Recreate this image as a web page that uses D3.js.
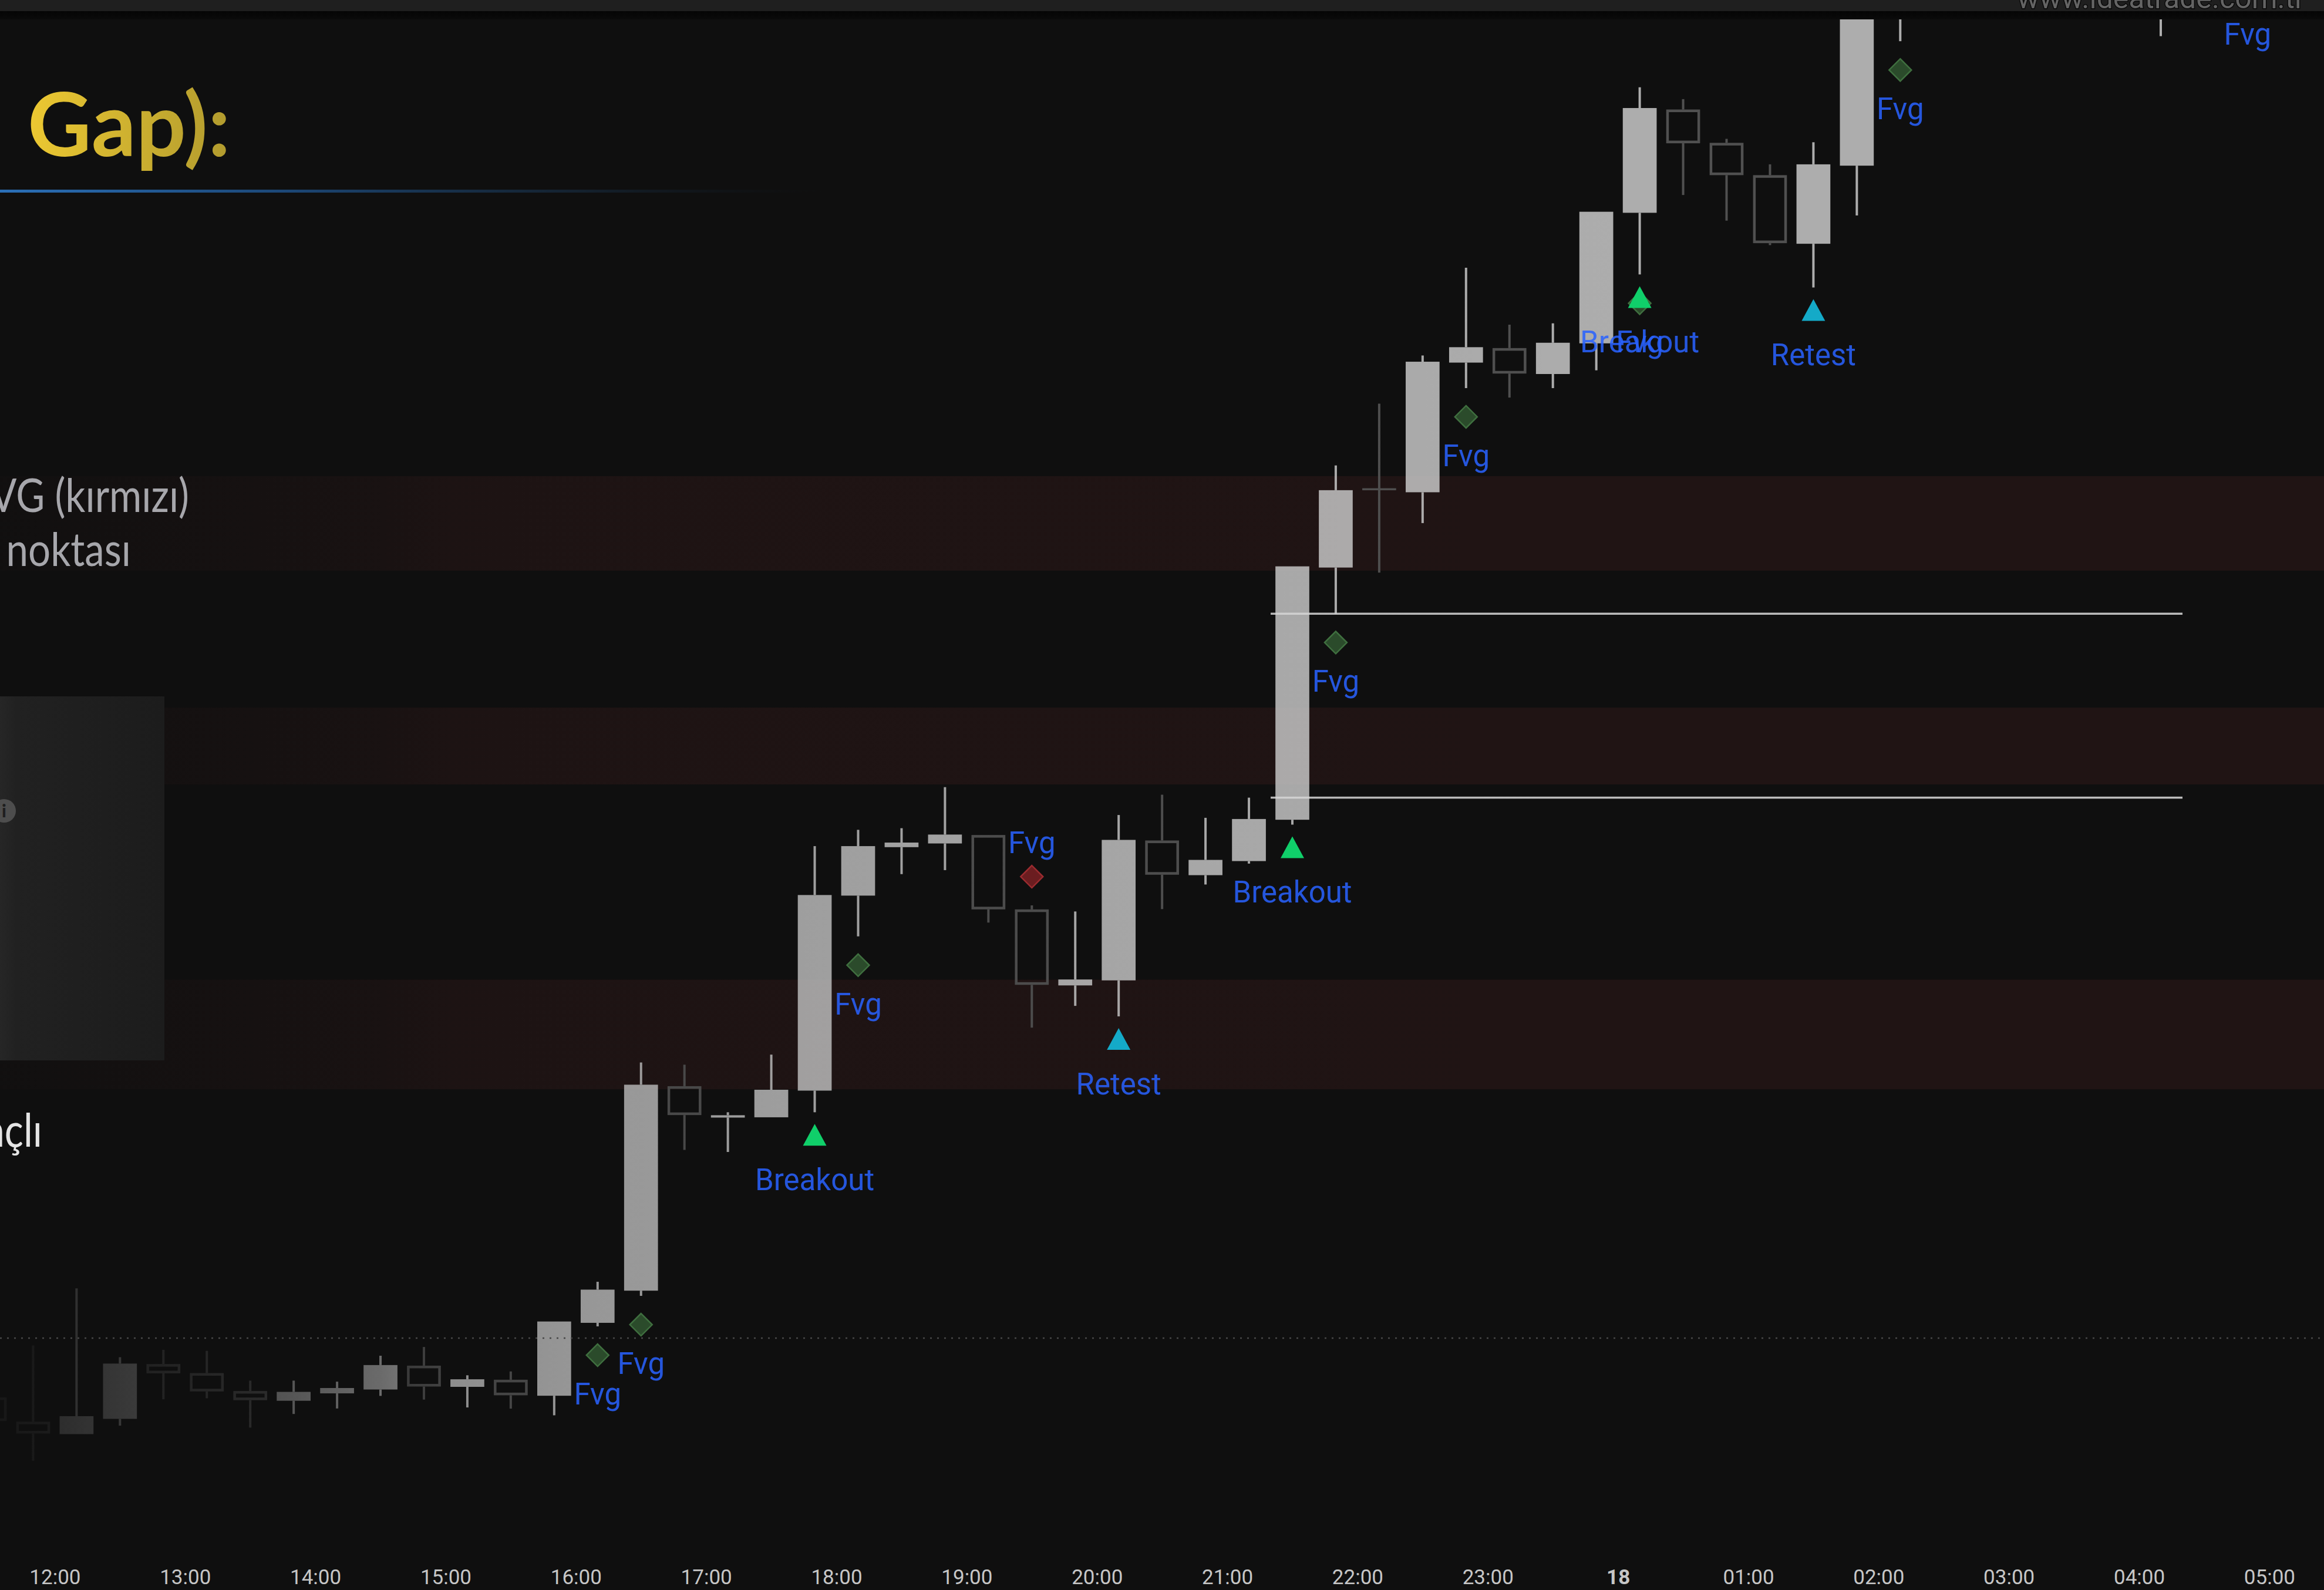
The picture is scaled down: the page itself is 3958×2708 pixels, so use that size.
<!DOCTYPE html>
<html>
<head>
<meta charset="utf-8">
<script src="https://cdn.jsdelivr.net/npm/d3@7"></script>
<style>
  html, body { margin: 0; padding: 0; background: #0f0f0f; overflow: hidden; }
  svg { display: block; }
</style>
</head>
<body>
<div id="chart"></div>
<script>
// 20 minute bars, 17th -> 18th (price in chart units)
var barTimes = ["17 11:30", "17 11:50", "17 12:10", "17 12:30", "17 12:50", "17 13:10", "17 13:30", "17 13:50",
    "17 14:10", "17 14:30", "17 14:50", "17 15:10", "17 15:30", "17 15:50", "17 16:10", "17 16:30",
    "17 16:50", "17 17:10", "17 17:30", "17 17:50", "17 18:10", "17 18:30", "17 18:50", "17 19:10",
    "17 19:30", "17 19:50", "17 20:10", "17 20:30", "17 20:50", "17 21:10", "17 21:30", "17 21:50",
    "17 22:10", "17 22:30", "17 22:50", "17 23:10", "17 23:30", "17 23:50", "18 00:10", "18 00:30",
    "18 00:50", "18 01:10", "18 01:30", "18 01:50", "18 02:10", "18 04:10", "18 04:50"];
var opens = [130, 113.6, 105.2, 115.5, 152.5, 146.4, 134.3, 127.7, 132.7, 135.3, 151.4, 137.1, 141.9, 131.1, 180.3, 202,
    340, 318.8, 319, 337, 468.6, 501.3, 503.8, 509.5, 459.3, 408, 411.4, 505.8, 482.4, 491.9, 519.8, 690,
    743, 740.8, 828.3, 838.1, 820.6, 841.3, 929.4, 999.1, 976.6, 954.8, 908.5, 961.2, 1085, 1080, 1110];
var highs = [130, 165, 203.6, 157.1, 162.1, 161.4, 141.3, 141.3, 140.6, 158.1, 164, 144.9, 147.5, 181.2, 208, 356,
    354.5, 322.4, 361.3, 502, 513, 514.1, 541.8, 509.5, 462, 457.9, 523, 536.7, 521.1, 534.7, 690.8, 758.9,
    800.6, 833.1, 892.3, 853.9, 854.8, 930.1, 1014.1, 1006.1, 979.3, 962.1, 977, 1092, 1130, 1100, 1125];
var lows = [114, 87.2, 105.2, 110.9, 128.7, 129.4, 109.6, 118.8, 122.5, 131, 128.5, 123.2, 122.4, 117.9, 177.9, 198.5,
    297, 295.6, 319, 322.4, 441.1, 483.1, 485.8, 450.4, 379.5, 394.2, 387.1, 459.5, 476.1, 490.2, 516.5, 658.8,
    686.6, 720, 811.1, 804.7, 811.1, 823.1, 887.8, 941.4, 924.1, 907.6, 879, 927.6, 1045.2, 1048.6, 1095.7];
var closes = [114, 105.6, 117.3, 152.8, 146.2, 134, 128.1, 133.7, 136.3, 151.8, 137.3, 142.2, 131.4, 181.2, 202.7, 341,
    320.5, 320.4, 337.6, 469, 502, 504.4, 509.8, 459.3, 408.4, 412, 506.2, 482.7, 492.7, 520.3, 690.8, 742.2,
    742.6, 828.9, 838.7, 820.9, 841.7, 930.1, 1000.1, 976.3, 954.8, 908.9, 962.1, 1085, 1120, 1090, 1120];

// indicator signals (index into the bar arrays)
var signalBar = [14, 15, 19, 20, 24, 26, 30, 31, 34, 38, 38, 42, 44, 46];
var signalType = ["fvg", "fvg", "breakout", "fvg", "fvgBear", "retest", "breakout", "fvg", "fvg", "fvg",
    "breakout", "retest", "fvg", "fvg"];
var signalText = ["Fvg", "Fvg", "Breakout", "Fvg", "Fvg", "Retest", "Breakout", "Fvg", "Fvg", "Fvg",
    "Breakout", "Retest", "Fvg", "Fvg"];

// FVG zones and levels
var zoneTop = [751.7, 595.5, 411.9];
var zoneBottom = [687.9, 543.6, 337.9];
var levelValues = [658.8, 534.7];
var levelStart = "17 21:20", levelEnd = "18 04:20";
var priceLine = 170;

var tickLabels = ["12:00", "13:00", "14:00", "15:00", "16:00", "17:00", "18:00", "19:00", "20:00", "21:00",
    "22:00", "23:00", "18", "01:00", "02:00", "03:00", "04:00", "05:00"];

var W = 3958, H = 2708;
var plotTop = 33, plotBottom = 2625;
var bg = "#0f0f0f";

var parseTime = d3.timeParse("%d %H:%M");

var svg = d3.select("#chart")
    .append("svg")
    .attr("width", W)
    .attr("height", H);

var x = d3.scaleTime()
    .domain([parseTime("17 12:00"), parseTime("18 05:00")])
    .range([93.4, 3864.9]);

var y = d3.scaleLinear()
    .domain([0, 1073])
    .range([H, 0]);

var bars = barTimes.map(function (t, i) {
    return { date: parseTime(t), open: opens[i], high: highs[i], low: lows[i], close: closes[i] };
});
var barStep = x(parseTime("17 12:20")) - x(parseTime("17 12:00"));
var barW = barStep * 0.78;

var defs = svg.append("defs");
defs.append("clipPath").attr("id", "plotClip")
    .append("rect").attr("x", 0).attr("y", plotTop).attr("width", W).attr("height", plotBottom - plotTop);

function gradient(id, x1, x2, stops, vertical) {
    var g = defs.append("linearGradient").attr("id", id).attr("gradientUnits", "userSpaceOnUse");
    if (vertical) g.attr("x1", 0).attr("x2", 0).attr("y1", x1).attr("y2", x2);
    else g.attr("x1", x1).attr("x2", x2).attr("y1", 0).attr("y2", 0);
    stops.forEach(function (s) {
        g.append("stop").attr("offset", s[0]).attr("stop-color", s[1]).attr("stop-opacity", s[2] == null ? 1 : s[2]);
    });
}
gradient("fade", 0, 2800, [[0, bg, 0.87], [0.071, bg, 0.75], [0.179, bg, 0.55], [0.232, bg, 0.42],
    [0.275, bg, 0.2], [0.357, bg, 0.14], [0.5, bg, 0.09], [0.714, bg, 0.04], [1, bg, 0]]);
gradient("gold", 49, 400, [[0, "#ecc832"], [0.5, "#cdb030"], [1, "#b09a2e"]]);
gradient("blueFade", 0, 1400, [[0, "#2b70b8"], [0.35, "#1f5590", 0.8], [0.7, "#1a3550", 0.5], [1, "#101820", 0]]);
gradient("boxGrad", 0, 280, [[0, "#262626"], [0.1, "#212121"], [1, "#1c1c1c"]]);
gradient("headShadow", 19, 46, [[0, "#050505"], [1, bg]], true);

svg.append("rect").attr("width", W).attr("height", H).attr("fill", bg);

var plot = svg.append("g").attr("clip-path", "url(#plotClip)");

// FVG zones
plot.selectAll(".zone")
    .data(zoneTop)
    .enter()
    .append("rect")
    .attr("class", "zone")
    .attr("x", 0)
    .attr("width", W)
    .attr("y", function (d) { return y(d); })
    .attr("height", function (d, i) { return y(zoneBottom[i]) - y(d); })
    .attr("fill", "#201414");

// candles
var bullColor = "#c4c4c4", bearColor = "#505050";
var candle = plot.selectAll(".candle")
    .data(bars)
    .enter()
    .append("g")
    .attr("class", "candle");

candle.each(function (d) {
    var g = d3.select(this);
    var cx = x(d.date);
    var up = d.close >= d.open;
    var top = y(Math.max(d.open, d.close)), bot = y(Math.min(d.open, d.close));
    var col = up ? bullColor : bearColor;
    g.append("line")
        .attr("x1", cx).attr("x2", cx)
        .attr("y1", y(d.high)).attr("y2", top)
        .attr("stroke", col).attr("stroke-width", 4).attr("stroke-opacity", up ? 0.88 : 1);
    g.append("line")
        .attr("x1", cx).attr("x2", cx)
        .attr("y1", bot).attr("y2", y(d.low))
        .attr("stroke", col).attr("stroke-width", 4).attr("stroke-opacity", up ? 0.88 : 1);
    if (up) {
        g.append("rect")
            .attr("x", cx - barW / 2).attr("width", barW)
            .attr("y", top).attr("height", Math.max(bot - top, 3))
            .attr("fill", bullColor).attr("fill-opacity", 0.88);
    } else if (bot - top < 6) {
        // doji
        g.append("line")
            .attr("x1", cx - barW / 2).attr("x2", cx + barW / 2)
            .attr("y1", (top + bot) / 2).attr("y2", (top + bot) / 2)
            .attr("stroke", bearColor).attr("stroke-width", 3.5);
    } else {
        g.append("rect")
            .attr("x", cx - barW / 2 + 2.25).attr("width", barW - 4.5)
            .attr("y", top + 2.25).attr("height", bot - top - 4.5)
            .attr("fill", "none").attr("stroke", bearColor).attr("stroke-width", 4.5);
    }
});

// FVG boundary levels
plot.selectAll(".level")
    .data(levelValues)
    .enter()
    .append("line")
    .attr("class", "level")
    .attr("x1", x(parseTime(levelStart)))
    .attr("x2", x(parseTime(levelEnd)))
    .attr("y1", function (d) { return y(d); })
    .attr("y2", function (d) { return y(d); })
    .attr("stroke", "#dcdcdc")
    .attr("stroke-opacity", 0.85)
    .attr("stroke-width", 3.5);

// left fade of the chart
plot.append("rect")
    .attr("x", 0).attr("y", plotTop)
    .attr("width", W).attr("height", plotBottom - plotTop)
    .attr("fill", "url(#fade)");

plot.append("line")
    .attr("x1", 0).attr("x2", W)
    .attr("y1", y(priceLine)).attr("y2", y(priceLine))
    .attr("stroke", "#474747")
    .attr("stroke-width", 2.5)
    .attr("stroke-dasharray", "3,9");

// signal shapes
var shapeFill = { fvg: "#2b4b2b", fvgBear: "#6b1d20", breakout: "#10cf6a", retest: "#14aac8" };
var shapeStroke = { fvg: "#3f6f3f", fvgBear: "#9b2b2f", breakout: "none", retest: "none" };

signalBar.forEach(function (b, i) {
    var d = bars[b], t = signalType[i];
    var cx = x(d.date), p;
    if (t == "breakout" || t == "retest") {
        var y0 = y(d.low) + 20;
        p = "M" + cx + "," + y0 + "L" + (cx - 20) + "," + (y0 + 37) + "L" + (cx + 20) + "," + (y0 + 37) + "Z";
    } else {
        var cy = t == "fvgBear" ? y(d.high) - 49 : y(d.low) + 49;
        p = "M" + cx + "," + (cy - 19) + "L" + (cx + 19) + "," + cy + "L" + cx + "," + (cy + 19) + "L" + (cx - 19) + "," + cy + "Z";
    }
    plot.append("path")
        .attr("d", p)
        .attr("fill", shapeFill[t])
        .attr("stroke", shapeStroke[t])
        .attr("stroke-width", 2.5);
});

signalBar.forEach(function (b, i) {
    var d = bars[b], t = signalType[i];
    plot.append("text")
        .attr("x", x(d.date))
        .attr("y", t == "fvgBear" ? y(d.high) - 107 : y(d.low) + 115)
        .attr("dy", "0.35em")
        .attr("text-anchor", "middle")
        .attr("fill", "#2962ff")
        .attr("fill-opacity", 0.86)
        .style("font-family", "Roboto, sans-serif")
        .style("font-size", "51px")
        .text(signalText[i]);
});

// header strip
svg.append("rect").attr("x", 0).attr("y", 0).attr("width", W).attr("height", 19).attr("fill", "#1f1f1f");
svg.append("rect").attr("x", 0).attr("y", 19).attr("width", W).attr("height", 14).attr("fill", "url(#headShadow)");
svg.append("text")
    .attr("x", 3925).attr("y", 14)
    .attr("text-anchor", "end")
    .attr("fill", "#646464")
    .attr("stroke", "#0a0a0a").attr("stroke-width", 3).attr("paint-order", "stroke")
    .style("font-family", "Roboto, sans-serif")
    .style("font-size", "50px")
    .text("www.ideatrade.com.tr");

// time axis
var tickTimes = d3.timeHour.range(parseTime("17 12:00"), parseTime("18 05:01"));
var xAxis = svg.append("g")
    .attr("transform", "translate(0,2673)")
    .call(d3.axisBottom(x)
        .tickValues(tickTimes)
        .tickSize(0)
        .tickPadding(0)
        .tickFormat(function (d, i) { return tickLabels[i]; }));
xAxis.select(".domain").remove();
xAxis.selectAll("text")
    .attr("fill", "#c6c6c6")
    .style("font-family", "Roboto, sans-serif")
    .style("font-size", "35px")
    .style("font-weight", function (d, i) { return tickLabels[i].length < 3 ? 700 : 400; });

// slide overlay on the left
svg.append("text")
    .attr("x", 47).attr("y", 266)
    .attr("fill", "url(#gold)")
    .style("font-family", "Lato, sans-serif")
    .style("font-weight", 700)
    .style("font-size", "150px")
    .text("Gap):");

svg.append("rect").attr("x", 0).attr("y", 323).attr("width", 1400).attr("height", 5).attr("fill", "url(#blueFade)");

function slideText(txt, xEnd, yBase, color) {
    svg.append("text")
        .attr("transform", "translate(" + xEnd + "," + yBase + ") scale(0.84,1)")
        .attr("text-anchor", "end")
        .attr("fill", color)
        .style("font-family", "Lato, sans-serif")
        .style("font-size", "80px")
        .text(txt);
}
slideText("FVG (kırmızı)", 322, 872, "#a7a7ac");
slideText("giriş noktası", 223, 964, "#a7a7ac");
slideText("amaçlı", 72, 1953, "#e4e4e4");

svg.append("rect").attr("x", 0).attr("y", 1186).attr("width", 280).attr("height", 620).attr("fill", "url(#boxGrad)");
svg.append("circle").attr("cx", 7).attr("cy", 1381).attr("r", 20).attr("fill", "#4d4d4d");
svg.append("text")
    .attr("x", 7).attr("y", 1381).attr("dy", "0.36em")
    .attr("text-anchor", "middle")
    .attr("fill", "#1e1e1e")
    .style("font-family", "Lato, sans-serif")
    .style("font-weight", 900)
    .style("font-size", "30px")
    .text("i");
</script>
</body>
</html>
